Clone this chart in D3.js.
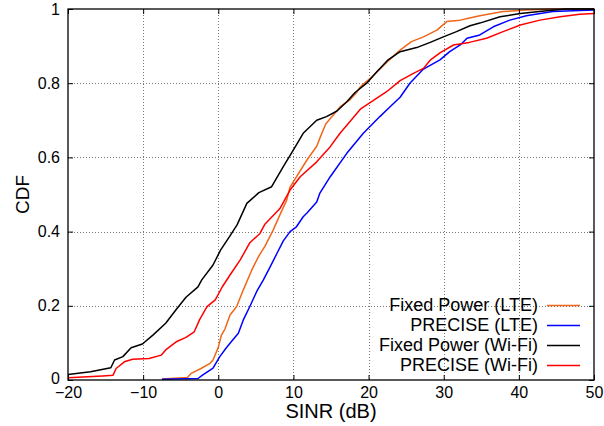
<!DOCTYPE html>
<html>
<head>
<meta charset="utf-8">
<script src="https://cdn.jsdelivr.net/npm/d3@7"></script>
<style>
  html, body { margin: 0; padding: 0; background: #fff; }
  svg { display: block; font-family: "Liberation Sans", Arial, Helvetica, sans-serif; }
</style>
</head>
<body>
<svg id="chart" width="604" height="426"></svg>
<script>
// SINR (dB) samples and CDF values for each scheme
const fixedLteSinr = [-7.5,-4.1,-3.6,-2.3,-1.1,-0.7,0.0,0.4,0.9,1.56,2.45,3.33,4.45,5.33,6.2,7.3,8.2,9.1,9.55,10,11.8,13.1,13.6,14.3,16.2,17.5,18.4,18.9,20.6,22.4,24.2,25.7,27.3,29.1,30.4,32.2,33.3,34.8,37.9,41,44.5,50];
const fixedLteCdf  = [0.003,0.007,0.018,0.031,0.045,0.054,0.088,0.12,0.138,0.175,0.198,0.243,0.296,0.332,0.36,0.404,0.445,0.485,0.52,0.535,0.593,0.63,0.656,0.69,0.736,0.755,0.775,0.79,0.82,0.856,0.889,0.912,0.925,0.943,0.966,0.97,0.975,0.982,0.993,0.997,1.0,1.0];

const preciseLteSinr = [-7.5,-2.7,-2.1,-0.7,0.2,1.0,1.56,2.67,3.33,4.2,5.1,6.0,6.9,7.8,8.65,9.55,10.4,11.3,11.8,13.1,13.5,14.9,17.1,19.3,21.5,22.9,24.2,25.5,27.3,29.5,30.8,32.2,33.1,34.8,36.6,38.8,41,44.5,50];
const preciseLteCdf  = [0.002,0.004,0.013,0.032,0.063,0.085,0.099,0.126,0.162,0.198,0.238,0.27,0.305,0.341,0.375,0.40,0.413,0.44,0.45,0.48,0.503,0.548,0.611,0.665,0.71,0.737,0.762,0.80,0.838,0.863,0.885,0.903,0.921,0.93,0.952,0.97,0.982,0.993,0.997];

const fixedWifiSinr = [-20,-17,-14.3,-13.8,-12.7,-11.6,-10.1,-8.7,-7.0,-5.6,-4.3,-2.7,-2.2,-0.7,0.3,1.6,2.5,3.8,5.4,7.1,8.65,10,11.3,13.1,14.4,15.8,17.1,18.2,19.75,21.1,22.6,24.2,26.4,28.2,29.95,31.7,33.5,34.8,37.5,40.2,43.7,46.4,50];
const fixedWifiCdf  = [0.015,0.022,0.033,0.054,0.063,0.087,0.097,0.121,0.153,0.19,0.223,0.251,0.27,0.31,0.35,0.39,0.418,0.476,0.505,0.521,0.575,0.62,0.665,0.70,0.71,0.725,0.75,0.775,0.80,0.831,0.863,0.885,0.896,0.91,0.925,0.939,0.955,0.962,0.979,0.988,0.995,1.0,1.0];

const preciseWifiSinr = [-20,-15.4,-14,-13.6,-12.5,-11.4,-9.2,-7.6,-7,-5.6,-4.3,-3.2,-2.5,-1.5,-0.4,0.5,1.56,2.9,4.2,5.55,6.2,8.2,9.55,10.9,13.1,14.9,16.2,17.5,18.9,20.6,22.4,24.2,25.9,27.3,28.2,29.5,31.3,33.4,35.7,37.9,40.2,42.8,45.5,48.1,50];
const preciseWifiCdf  = [0.006,0.011,0.013,0.031,0.049,0.056,0.058,0.067,0.081,0.103,0.115,0.13,0.162,0.198,0.216,0.25,0.283,0.323,0.37,0.395,0.42,0.462,0.512,0.548,0.588,0.629,0.665,0.696,0.73,0.753,0.777,0.807,0.826,0.84,0.862,0.882,0.903,0.91,0.921,0.939,0.957,0.97,0.979,0.986,0.988];

const seriesNames = ["Fixed Power (LTE)", "PRECISE (LTE)", "Fixed Power (Wi-Fi)", "PRECISE (Wi-Fi)"];
const seriesColors = ["#f0661a", "#0000ff", "#000000", "#ff0000"];

const xTicks = [-20, -10, 0, 10, 20, 30, 40, 50];
const yTicks = [0, 0.2, 0.4, 0.6, 0.8, 1];
const xLabel = "SINR (dB)";
const yLabel = "CDF";

const series = [
  [fixedLteSinr, fixedLteCdf],
  [preciseLteSinr, preciseLteCdf],
  [fixedWifiSinr, fixedWifiCdf],
  [preciseWifiSinr, preciseWifiCdf]
].map(([xs, ys], i) => ({
  name: seriesNames[i],
  color: seriesColors[i],
  points: xs.map((v, k) => [v, ys[k]])
}));

const plot = { left: 68, right: 594, top: 9, bottom: 380 };
const svg = d3.select("#chart");

const x = d3.scaleLinear().domain([-20, 50]).range([plot.left, plot.right]);
const y = d3.scaleLinear().domain([0, 1]).range([plot.bottom, plot.top]);

// dotted grid on interior ticks
const grid = svg.append("g").attr("stroke", "#777").attr("stroke-width", 1).attr("stroke-dasharray", "1,2");
grid.selectAll("line.gx").data(xTicks.slice(1, -1)).join("line")
  .attr("x1", d => Math.round(x(d)) + 0.5).attr("x2", d => Math.round(x(d)) + 0.5)
  .attr("y1", plot.top).attr("y2", plot.bottom);
grid.selectAll("line.gy").data(yTicks.slice(1, -1)).join("line")
  .attr("y1", d => Math.round(y(d)) + 0.5).attr("y2", d => Math.round(y(d)) + 0.5)
  .attr("x1", plot.left).attr("x2", plot.right);

// clip the curves to the plotting area
svg.append("clipPath").attr("id", "plotClip").append("rect")
  .attr("x", plot.left).attr("y", plot.top - 1)
  .attr("width", plot.right - plot.left).attr("height", plot.bottom - plot.top + 1);

const line = d3.line().x(d => x(d[0])).y(d => y(d[1]));
svg.append("g").attr("clip-path", "url(#plotClip)")
  .selectAll("path").data(series).join("path")
  .attr("d", d => line(d.points))
  .attr("fill", "none")
  .attr("stroke", d => d.color)
  .attr("stroke-width", 1.5)
  .attr("stroke-linejoin", "round");

// axes with inward ticks on all four sides
const tickLen = 5;
const axisStyle = g => {
  g.select(".domain").remove();
  g.selectAll(".tick line").attr("stroke", "#000");
  g.selectAll("text").attr("fill", "#000").style("font-size", "16px");
};
svg.append("g").attr("transform", `translate(0,${plot.bottom})`)
  .call(d3.axisBottom(x).tickValues(xTicks).tickFormat(d3.format("d")).tickSizeInner(-tickLen).tickSizeOuter(0).tickPadding(7))
  .call(axisStyle);
svg.append("g").attr("transform", `translate(0,${plot.top})`)
  .call(d3.axisTop(x).tickValues(xTicks).tickFormat("").tickSizeInner(-tickLen).tickSizeOuter(0))
  .call(axisStyle);
svg.append("g").attr("transform", `translate(${plot.left},0)`)
  .call(d3.axisLeft(y).tickValues(yTicks).tickFormat(d => d === 0 || d === 1 ? d3.format("d")(d) : d3.format(".1f")(d)).tickSizeInner(-tickLen).tickSizeOuter(0).tickPadding(8))
  .call(axisStyle)
  // keep the bottom "0" clear of the first x tick label
  .call(g => g.selectAll(".tick text").filter(d => d === 0).attr("dy", "0.2em"));
svg.append("g").attr("transform", `translate(${plot.right},0)`)
  .call(d3.axisRight(y).tickValues(yTicks).tickFormat("").tickSizeInner(-tickLen).tickSizeOuter(0))
  .call(axisStyle);

// plot frame
svg.append("rect")
  .attr("x", plot.left).attr("y", plot.top)
  .attr("width", plot.right - plot.left).attr("height", plot.bottom - plot.top)
  .attr("fill", "none").attr("stroke", "#000").attr("stroke-width", 1.3);

// axis titles
svg.append("text")
  .attr("x", 331).attr("y", 418)
  .attr("text-anchor", "middle").style("font-size", "20px").text(xLabel);
svg.append("text")
  .attr("transform", `translate(29,${(plot.top + plot.bottom) / 2}) rotate(-90)`)
  .attr("text-anchor", "middle").style("font-size", "19px").text(yLabel);

// legend
const legend = svg.append("g");
const legRows = legend.selectAll("g").data(series).join("g")
  .attr("transform", (d, i) => `translate(0,${305 + i * 20})`);
legRows.append("text")
  .attr("x", 538).attr("y", 0).attr("dy", "0.35em")
  .attr("text-anchor", "end").style("font-size", "18px").text(d => d.name);
legRows.append("line")
  .attr("x1", 547).attr("x2", 580).attr("y1", 0.5).attr("y2", 0.5)
  .attr("stroke", d => d.color).attr("stroke-width", 1.5);
</script>
</body>
</html>
